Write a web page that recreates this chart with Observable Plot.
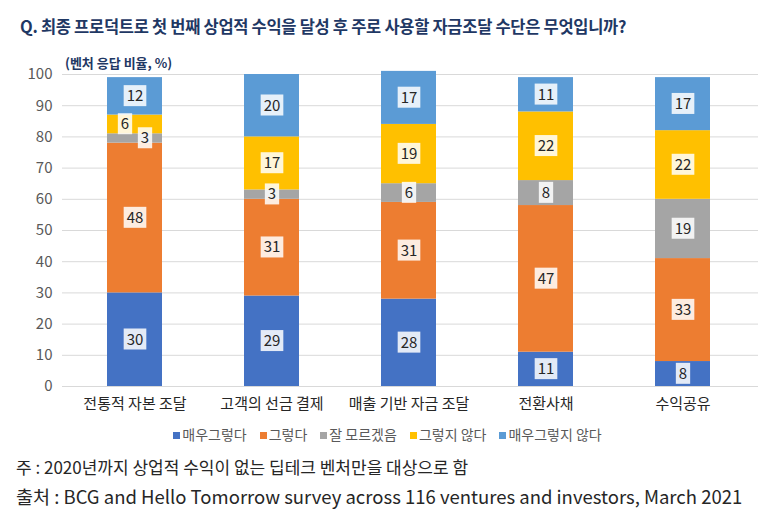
<!DOCTYPE html>
<html>
<head>
<meta charset="utf-8">
<script src="https://cdn.jsdelivr.net/npm/d3@7"></script>
<script src="https://cdn.jsdelivr.net/npm/@observablehq/plot@0.6"></script>
<style>
  body { margin: 0; background: #fff; font-family: "Noto Sans CJK KR", "Noto Sans", sans-serif; }
  #wrap { position: relative; width: 763px; height: 521px; overflow: hidden; }
  #title { position: absolute; left: 20px; top: 14px; font-size: 16.5px; font-weight: 700; color: #1f3864; letter-spacing: -0.3px; white-space: nowrap; }
  #subtitle { position: absolute; left: 65px; top: 53px; font-size: 13px; font-weight: 700; color: #1f3864; white-space: nowrap; }
  #chart { position: absolute; left: 0; top: 48px; }
  #legend { position: absolute; left: 6px; width: 763px; top: 424px; display: flex; justify-content: center; gap: 13px; font-size: 14px; color: #595959; white-space: nowrap; }
  #legend span.sw { display: inline-block; width: 7px; height: 7px; margin-right: 2px; vertical-align: middle; position: relative; top: -1px; }
  .note { position: absolute; left: 16px; color: #262626; white-space: nowrap; }
</style>
</head>
<body>
<div id="wrap">
  <div id="title">Q. 최종 프로덕트로 첫 번째 상업적 수익을 달성 후 주로 사용할 자금조달 수단은 무엇입니까?</div>
  <div id="subtitle">(벤처 응답 비율, %)</div>
  <div id="chart"></div>
  <div id="legend"></div>
  <div class="note" style="top:454px; font-size:17px">주 : 2020년까지 상업적 수익이 없는 딥테크 벤처만을 대상으로 함</div>
  <div class="note" style="top:483px; font-size:18.5px">출처 : BCG and Hello Tomorrow survey across 116 ventures and investors, March 2021</div>
</div>
<script>
const categories = ["전통적 자본 조달", "고객의 선금 결제", "매출 기반 자금 조달", "전환사채", "수익공유"];
const series = ["매우그렇다", "그렇다", "잘 모르겠음", "그렇지 않다", "매우그렇지 않다"];
const colors = ["#4472c4", "#ed7d31", "#a5a5a5", "#ffc000", "#5b9bd5"];
const veryYes = [30, 29, 28, 11, 8];
const yes = [48, 31, 31, 47, 33];
const unsure = [3, 3, 6, 8, 19];
const no = [6, 17, 19, 22, 22];
const veryNo = [12, 20, 17, 11, 17];
const yTicks = [0, 10, 20, 30, 40, 50, 60, 70, 80, 90, 100];

const seriesValues = [veryYes, yes, unsure, no, veryNo];
const rows = [];
categories.forEach((c, i) => {
  seriesValues.forEach((vals, s) => {
    rows.push({category: c, series: series[s], value: vals[i], si: s, ci: i});
  });
});
// label nudge for adjacent tiny segments
function shift(d) {
  const vals = seriesValues.map(v => v[d.ci]);
  if (d.value < 7 && d.si < 4 && vals[d.si + 1] < 7) return 1;
  if (d.value < 7 && d.si > 0 && vals[d.si - 1] < 7) return -1;
  return 0;
}
const labelMark = (k, dx) => Plot.text(rows, Plot.stackY({
  x: "category", y: "value", z: "series",
  text: d => shift(d) === k ? String(d.value) : undefined,
  dx, fill: "#262626", fontSize: 15, className: "seglabel"
}));

const chart = Plot.plot({
  width: 763, height: 372,
  marginTop: 26, marginBottom: 34, marginLeft: 64, marginRight: 11,
  style: {fontFamily: "'Noto Sans CJK KR', 'Noto Sans', sans-serif", fontSize: "15px", background: "transparent"},
  x: {domain: categories, paddingInner: 0.6, paddingOuter: 0.3, label: null},
  y: {domain: [0, 100], label: null},
  color: {domain: series, range: colors},
  marks: [
    Plot.ruleY(yTicks, {stroke: "#d9d9d9", strokeWidth: 1, insetLeft: -2, insetRight: -6}),
    Plot.barY(rows, {x: "category", y: "value", fill: "series"}),
    labelMark(0, 0),
    labelMark(1, 10),
    labelMark(-1, -10),
    Plot.axisY(yTicks, {tickSize: 0, tickPadding: 12, fill: "#595959", fontSize: 15, label: null}),
    Plot.axisX({tickSize: 0, tickPadding: 12, fill: "#262626", fontSize: 15, label: null})
  ]
});
document.getElementById("chart").appendChild(chart);

// white translucent boxes behind segment labels
chart.querySelectorAll("g.seglabel text").forEach(t => {
  const b = t.getBBox();
  const r = document.createElementNS("http://www.w3.org/2000/svg", "rect");
  r.setAttribute("x", b.x - 3);
  r.setAttribute("y", b.y + 1);
  r.setAttribute("width", b.width + 6);
  r.setAttribute("height", b.height);
  r.setAttribute("fill", "#ffffff");
  r.setAttribute("fill-opacity", "0.85");
  const tr = t.getAttribute("transform");
  if (tr) r.setAttribute("transform", tr);
  t.parentNode.insertBefore(r, t);
});

const legend = d3.select("#legend");
series.forEach((s, i) => {
  const item = legend.append("span");
  item.append("span").attr("class", "sw").style("background", colors[i]);
  item.append("span").text(s);
});
</script>
</body>
</html>
